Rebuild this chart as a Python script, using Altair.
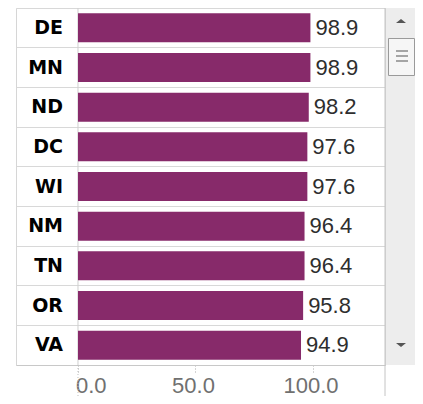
import altair as alt
import pandas as pd

states = ["DE", "MN", "ND", "DC", "WI", "NM", "TN", "OR", "VA"]
values = [98.9, 98.9, 98.2, 97.6, 97.6, 96.4, 96.4, 95.8, 94.9]
tick_values = [0, 50, 100]

df = pd.DataFrame({"state": states, "value": values})
zero_df = pd.DataFrame({"v": [0]})
one = pd.DataFrame({"k": [1]})

W, H = 369, 357
BAR = "#872a6a"

x_scale = alt.Scale(domain=[-26.38, 130.64], nice=False, zero=False)
x_axis = alt.Axis(
    title=None, values=tick_values, format=".1f", grid=False,
    domain=True, domainColor="#c8c8c8",
    tickColor="#a8a8a8", tickDash=[1, 2], tickSize=7,
    labelFont="Liberation Sans", labelFontSize=22, labelColor="#707070",
    labelPadding=3, labelOffset=-2.5,
    labelAlign={"condition": {"test": "datum.value == 0", "value": "left"}, "value": "center"},
)
y_axis = alt.Axis(title=None, labels=False, ticks=False, domain=False, grid=True,
                  bandPosition=0, gridColor="#d8d8d8")

y_enc = alt.Y("state:N", sort=states,
              scale=alt.Scale(paddingInner=0, paddingOuter=0), axis=y_axis)
y_plain = alt.Y("state:N", sort=states)

base = alt.Chart(df)

bars = base.mark_bar(color=BAR, height={"band": 0.73}).encode(
    x=alt.X("value:Q", scale=x_scale, axis=x_axis), y=y_enc)

vals = base.mark_text(align="left", baseline="middle", dx=5,
                      font="Liberation Sans", fontSize=22, color="#2e2e2e").encode(
    x="value:Q", y=y_plain, text=alt.Text("value:Q", format=".1f"))

names = base.mark_text(align="right", baseline="middle", font="DejaVu Sans",
                       fontWeight="bold", fontSize=19, color="#000000").encode(
    x=alt.value(47), y=y_plain, text="state:N")

col_rule = alt.Chart(zero_df).mark_rule(color="#cfcfcf").encode(
    x="v:Q", y=alt.value(0), y2=alt.value(H))
col_rule_dot = alt.Chart(zero_df).mark_rule(color="#bdbdbd", strokeDash=[1, 2]).encode(
    x="v:Q", y=alt.value(H), y2=alt.value(H + 31))

track = alt.Chart(one).mark_rect(color="#ededed").encode(
    x=alt.value(370), x2=alt.value(399), y=alt.value(0), y2=alt.value(H))
right_rule = alt.Chart(one).mark_rule(color="#c4c4c4").encode(
    x=alt.value(369), y=alt.value(0), y2=alt.value(H + 31))
thumb = alt.Chart(one).mark_rect(fill="#f6f6f6", stroke="#9a9a9a", strokeWidth=1).encode(
    x=alt.value(372.5), x2=alt.value(398.5), y=alt.value(30.5), y2=alt.value(67.5))
grips = [
    alt.Chart(one).mark_rule(color="#8a8a8a", strokeWidth=1.5).encode(
        x=alt.value(380), x2=alt.value(392), y=alt.value(gy))
    for gy in (43, 48, 53)
]
up = alt.Chart(one).mark_point(shape="M-1,0.4L1,0.4L0,-0.4Z", filled=True, size=100,
                               color="#555555", opacity=1).encode(
    x=alt.value(385), y=alt.value(13))
down = alt.Chart(one).mark_point(shape="M-1,-0.4L1,-0.4L0,0.4Z", filled=True, size=100,
                                 color="#555555", opacity=1).encode(
    x=alt.value(385), y=alt.value(337))

chart = alt.layer(
    track, thumb, *grips, up, down, right_rule, col_rule, col_rule_dot, bars, vals, names
).properties(
    width=W, height=H, autosize="none",
    padding={"left": 8, "top": 0, "right": 30, "bottom": 31},
).configure_view(stroke="#d6d6d6")

chart.save("out.html", embed_options={"renderer": "svg", "actions": False})
